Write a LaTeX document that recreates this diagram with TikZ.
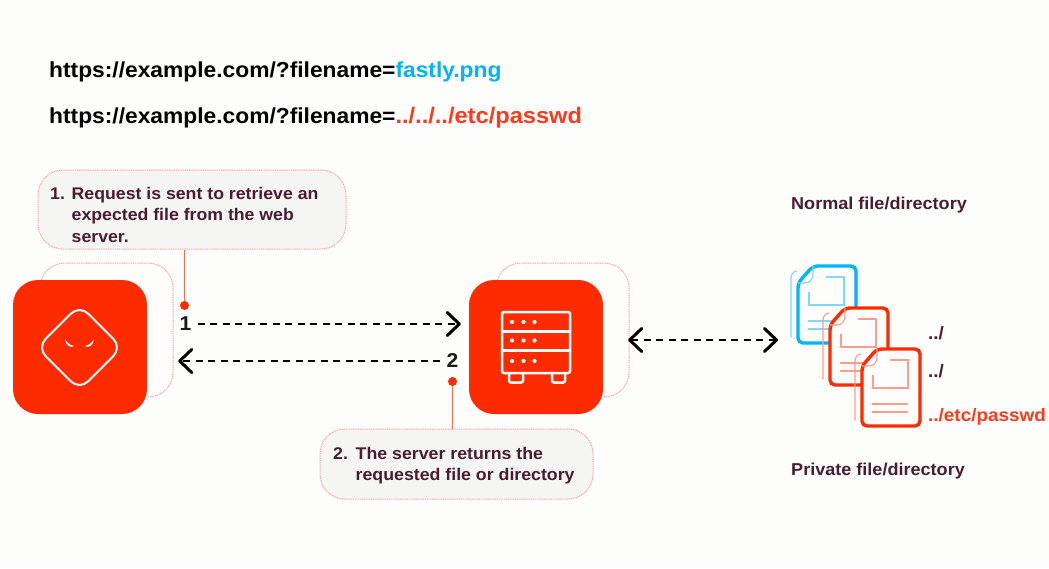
\documentclass[tikz,border=0pt]{standalone}
\usepackage{fontspec}
\setmainfont[FakeStretch=1.05]{Liberation Sans}
\usetikzlibrary{arrows.meta,calc}
\definecolor{bgc}{HTML}{FDFDFC}
\definecolor{fillc}{HTML}{F5F5F3}
\definecolor{pinkc}{HTML}{F9A29B}
\definecolor{redc}{HTML}{FF2B00}
\definecolor{oranget}{HTML}{FF3A1C}
\definecolor{bluec}{HTML}{00B4F5}
\definecolor{maroon}{HTML}{4A1C30}
\definecolor{palered}{HTML}{FF9C8C}
\definecolor{paleblue}{HTML}{7FD8F8}
\tikzset{
  redsq/.style={fill=redc,draw=none,minimum size=134pt,inner sep=0pt,rounded corners=25pt},
  callout/.style={draw=pinkc,fill=fillc,line width=1pt,dash pattern=on 1pt off 0.8pt,rounded corners=25pt,inner sep=0pt},
  callouttext/.style={anchor=west,inner sep=0pt,align=left,text=maroon},
  backline/.style={draw=pinkc,line width=1pt,dash pattern=on 1pt off 0.8pt,rounded corners=25pt},
  leader/.style={draw=redc!70!white,line width=1.2pt},
  reddot/.style={circle,fill=redc,draw=none,minimum size=9pt,inner sep=0pt},
  flow/.style={black,line width=2.6pt,dash pattern=on 7pt off 5.5pt,{Straight Barb[length=12pt,width=23pt,line width=3pt,round]}-{Straight Barb[length=12pt,width=23pt,line width=3pt,round]}},
  flowr/.style={black,line width=2.6pt,dash pattern=on 7pt off 5.5pt,-{Straight Barb[length=12pt,width=23pt,line width=3pt,round]}},
  numlabel/.style={font=\bfseries\fontsize{20}{20}\selectfont,text=black!90,inner sep=0pt},
  urlt/.style={anchor=base west,font=\bfseries\fontsize{21.7}{24}\selectfont,inner sep=0pt,text=black},
  sidelabel/.style={anchor=west,font=\bfseries\fontsize{17.2}{20}\selectfont,inner sep=0pt,text=maroon},
  pathlabel/.style={anchor=base west,font=\bfseries\fontsize{18}{20}\selectfont,inner sep=0pt},
}
\newcommand{\docicon}[4]{%
  \begin{scope}[shift={(#1,#2)}]
    \draw[#4,line width=1.1pt,line cap=round] (-7,71) -- (-7,12) .. controls (-7,8) and (-4,5) .. (-1,5);
    \draw[#3,fill=bgc,line width=3.4pt,rounded corners=5pt] (15,0) -- (58,0) -- (58,77) -- (0,77) -- (0,17) -- cycle;
    \draw[#4,line width=1.1pt] (15,0) -- (15,8) .. controls (15,13) and (12,17) .. (7,17) -- (0,17);
    \draw[#4,line width=1.1pt] (11,26) -- (11,39) -- (46,39) -- (46,11) -- (28,11);
    \draw[#4,line width=1.1pt] (10,55) -- (46,55) (10,63) -- (46,63);
  \end{scope}}
\begin{document}
\begin{tikzpicture}[x=1pt,y=-1pt]
\useasboundingbox (0,0) rectangle (1049,568);
\fill[bgc] (0,0) rectangle (1049,568);

\node[urlt] (url1) at (49,77) {https://example.com/?filename=\textcolor{bluec}{fastly.png}};
\node[urlt] (url2) at (49,123) {https://example.com/?filename=\textcolor{oranget}{\fontsize{22.5}{24}\selectfont ../../../etc/passwd}};

% back outlines
\draw[backline] (40,280) -- (40,263) -- (173,263) -- (173,397) -- (147,397);
\draw[backline] (496,280) -- (496,263) -- (629,263) -- (629,397) -- (603,397);

% squares
\node[redsq] (client) at (80,347) {};
\node[redsq] (server) at (536,347) {};

% client icon
\begin{scope}[shift={(79.5,347.5)},rotate=45]
  \draw[white,line width=2pt,rounded corners=12pt] (-30,-30) rectangle (30,30);
\end{scope}
\fill[white] (65,339) .. controls (67,343) and (70,345) .. (74,346) .. controls (71,348.5) and (66,346) .. cycle;
\fill[white] (94,339) .. controls (92,343) and (89,345) .. (85,346) .. controls (88,348.5) and (93,346) .. cycle;

% server icon
\draw[white,line width=2.5pt,rounded corners=2pt] (502,312) rectangle (570,373);
\draw[white,line width=2.5pt] (502,331.5) -- (570,331.5) (502,350.5) -- (570,350.5);
\draw[white,line width=2.5pt,rounded corners=2pt] (509,373) -- (509,382.5) -- (523,382.5) -- (523,373);
\draw[white,line width=2.5pt,rounded corners=2pt] (552,373) -- (552,382.5) -- (565,382.5) -- (565,373);
\foreach \dx in {512,523.5,534.5}{
  \foreach \dy in {322,340.5,361}{
    \fill[white] (\dx,\dy) circle (2.1pt);
  }
}

% callouts
\node[callout,minimum width=308pt,minimum height=79pt] (c1) at (192,209.5) {};
\node[callouttext,font=\bfseries\fontsize{16.85}{21.5}\selectfont] (c1t) at (50,216.5)
  {\begin{tabular}{@{}p{21.5pt}@{}l@{}}1.&Request is sent to retrieve an\\&expected file from the web\\&server.\end{tabular}};
\node[callout,minimum width=273pt,minimum height=70pt] (c2) at (456.5,464) {};
\node[callouttext,font=\bfseries\fontsize{16.9}{21.5}\selectfont] (c2t) at (333,465.5)
  {\begin{tabular}{@{}p{22.5pt}@{}l@{}}2.&The server returns the\\&requested file or directory\end{tabular}};

% leaders
\node[reddot] (d1) at (184.5,305.5) {};
\node[reddot] (d2) at (452.5,381.5) {};
\draw[leader] (c1.south -| d1) -- (d1);
\draw[leader] (c2.north -| d2) -- (d2);

% flow
\node[numlabel] (n1) at (185.5,324) {1};
\node[numlabel] (n2) at (452.5,361) {2};
\draw[flowr,shorten <=6pt,shorten >=8pt] (n1.east) -- (server.west |- n1);
\draw[flowr,shorten <=6pt,shorten >=31pt] (n2.west) -- (client.east |- n2);

% documents
\docicon{798}{266}{bluec}{paleblue}
\docicon{830}{308}{redc}{palered}
\docicon{862}{349}{redc}{palered}
\coordinate (files) at (798,340);
\draw[flow,shorten <=25pt,shorten >=20pt] (server.east |- files) -- (files);

% labels
\node[sidelabel] (normal) at (791,205) {Normal file/directory};
\node[sidelabel] (private) at (791,471) {Private file/directory};
\node[pathlabel,text=maroon] (p1) at (928,339) {../};
\node[pathlabel,text=maroon] (p2) at (928,377) {../};
\node[pathlabel,text=oranget] (p3) at (928,421) {../etc/passwd};
\end{tikzpicture}
\end{document}
